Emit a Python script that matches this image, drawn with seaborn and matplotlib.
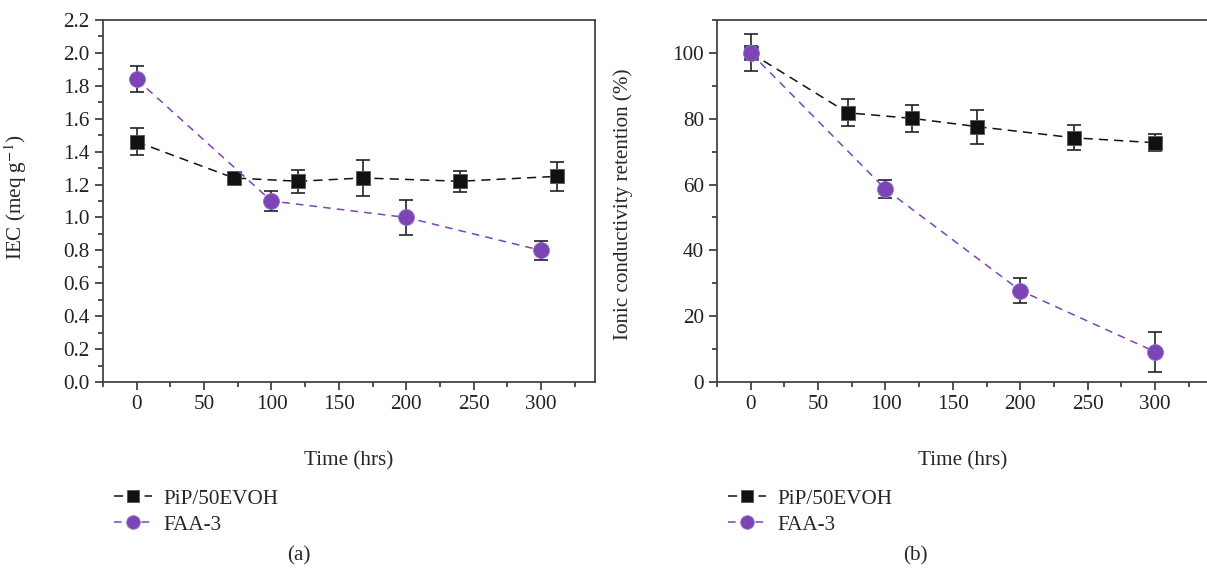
import pandas as pd
import matplotlib.pyplot as plt
import seaborn as sns
from matplotlib.ticker import MultipleLocator, FormatStrFormatter

# data
pip_time_a = [0, 72, 120, 168, 240, 312]
pip_iec = [1.46, 1.24, 1.22, 1.24, 1.22, 1.25]
pip_iec_err = [0.083, 0.02, 0.07, 0.11, 0.064, 0.09]
faa_time = [0, 100, 200, 300]
faa_iec = [1.84, 1.10, 1.00, 0.80]
faa_iec_err = [0.08, 0.06, 0.105, 0.057]

pip_time_b = [0, 72, 120, 168, 240, 300]
pip_ret = [100, 81.8, 80.1, 77.6, 74.2, 72.7]
pip_ret_err = [5.6, 4.1, 4.0, 5.2, 3.8, 2.6]
faa_ret = [100, 58.6, 27.8, 9.2]
faa_ret_err = [2.0, 2.7, 3.7, 6.1]

labels = ["PiP/50EVOH", "FAA-3"]
black = "#111111"
purple = "#7B45B5"
fs = 15.2

sns.set_style("ticks")
plt.rcParams["font.family"] = ["Liberation Serif", "DejaVu Serif"]
plt.rcParams["font.size"] = fs
plt.rcParams["mathtext.fontset"] = "stix"

fig = plt.figure(figsize=(12.07, 5.73), dpi=100)
ax1 = fig.add_axes([0.0853, 0.3333, 0.4076, 0.6318])
ax2 = fig.add_axes([0.594, 0.3333, 0.4076, 0.6318])


def draw(ax, t1, y1, e1, t2, y2, e2):
    ax.errorbar(t1, y1, yerr=e1, fmt="none", ecolor="#222222", elinewidth=1.2,
                capsize=5, capthick=1.2, zorder=2)
    ax.errorbar(t2, y2, yerr=e2, fmt="none", ecolor="#222222", elinewidth=1.2,
                capsize=5, capthick=1.2, zorder=2)
    d1 = pd.DataFrame({"time": t1, "value": y1})
    d2 = pd.DataFrame({"time": t2, "value": y2})
    sns.lineplot(data=d1, x="time", y="value", ax=ax, color=black, marker="s",
                 markersize=9.5, markeredgecolor="#555555", markeredgewidth=0.6,
                 linestyle=(0, (6, 4)), linewidth=1.1, label=labels[0], zorder=3)
    sns.lineplot(data=d2, x="time", y="value", ax=ax, color=purple, marker="o",
                 markersize=11.5, markeredgecolor="#9a6fd0", markeredgewidth=0.6,
                 linestyle=(0, (5, 4)), linewidth=1.1, label=labels[1], zorder=4)
    ax.set_xlim(-25, 340)
    ax.xaxis.set_minor_locator(MultipleLocator(25))
    ax.set_xticks([0, 50, 100, 150, 200, 250, 300])
    ax.set_xlabel("Time (hrs)")
    ax.xaxis.set_label_coords(0.5, -0.19)
    ax.tick_params(which="major", direction="out", length=6, width=1.2, colors="#333333",
                   labelcolor="#222222", labelsize=fs)
    ax.tick_params(which="minor", direction="out", length=3.5, width=1.2, colors="#333333")
    for s in ax.spines.values():
        s.set_linewidth(1.3)
        s.set_color("#444444")
    ax.legend(loc="upper left", bbox_to_anchor=(ax.get_position().x0 - 0.007, 0.18),
              bbox_transform=fig.transFigure, frameon=False, handlelength=1.8,
              handletextpad=0.55, labelspacing=0.3, markerscale=0.85, fontsize=fs)


draw(ax1, pip_time_a, pip_iec, pip_iec_err, faa_time, faa_iec, faa_iec_err)
ax1.set_ylim(0, 2.2)
ax1.yaxis.set_major_locator(MultipleLocator(0.2))
ax1.yaxis.set_minor_locator(MultipleLocator(0.1))
ax1.yaxis.set_major_formatter(FormatStrFormatter("%.1f"))
ax1.set_ylabel("IEC (meq g$^{-1}$)")
ax1.yaxis.set_label_coords(-0.150, 0.51)

draw(ax2, pip_time_b, pip_ret, pip_ret_err, faa_time, faa_ret, faa_ret_err)
ax2.set_ylim(0, 110)
ax2.yaxis.set_major_locator(MultipleLocator(20))
ax2.yaxis.set_minor_locator(MultipleLocator(10))
ax2.set_ylabel("Ionic conductivity retention (%)")
ax2.yaxis.set_label_coords(-0.171, 0.49)

fig.text(299 / 1207, 1 - 556 / 573, "(a)", ha="center", va="center", fontsize=fs)
fig.text(915 / 1207, 1 - 556 / 573, "(b)", ha="center", va="center", fontsize=fs)

fig.savefig("out.png", dpi=100)
